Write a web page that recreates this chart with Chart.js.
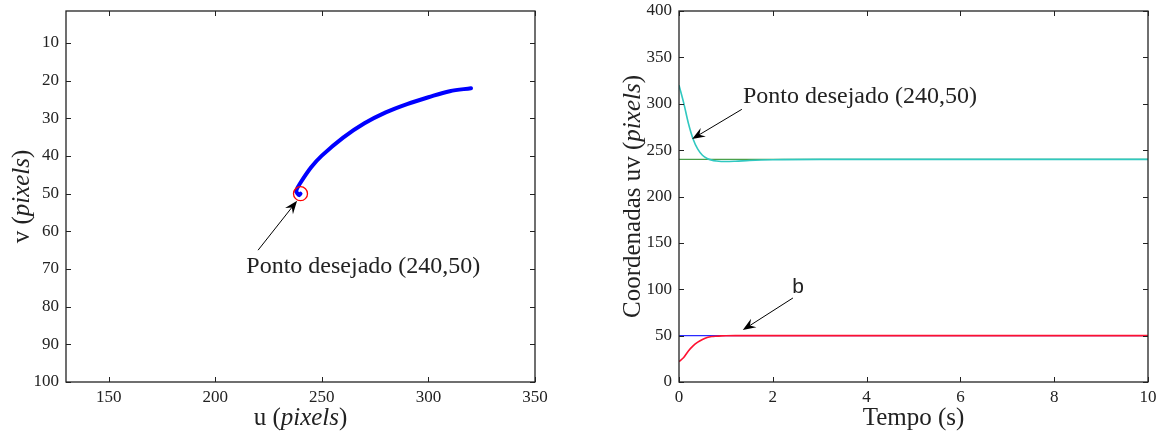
<!DOCTYPE html>
<html>
<head>
<meta charset="utf-8">
<script src="https://cdn.jsdelivr.net/npm/chart.js@4.4.0/dist/chart.umd.min.js"></script>
<style>
html, body { margin: 0; padding: 0; background: #fff; }
#wrap { position: relative; width: 1161px; height: 434px; }
#left { position: absolute; left: 0; top: 0; }
#right { position: absolute; left: 580px; top: 0; }
</style>
</head>
<body>
<div id="wrap">
  <canvas id="left" width="580" height="434"></canvas>
  <canvas id="right" width="581" height="434"></canvas>
</div>
<script>
// ---- dados: trajetoria no plano da imagem ----
var trajU = [320, 310, 300, 290, 280, 270, 260, 250, 245, 240, 238, 238.6, 239.4, 240];
var trajV = [22, 22.8, 24.4, 26.2, 28.4, 31.3, 35.1, 39.9, 43.0, 47.1, 49.2, 50.0, 50.4, 50];
var desiredU = [240];
var desiredV = [50];

// ---- dados: coordenadas uv no tempo ----
var tempo  = [0, 0.1, 0.2, 0.3, 0.4, 0.5, 0.6, 0.7, 0.8, 0.9, 1.0, 1.2, 1.5, 2.0, 3.0, 5.0, 10.0];
var coordU = [320, 301, 279, 262, 251, 244.5, 241, 239.2, 238.3, 237.8, 237.7, 238, 238.8, 239.6, 240, 240, 240];
var coordV = [22, 26.5, 33.5, 39, 43, 45.8, 48, 49, 49.4, 49.7, 49.9, 50, 50, 50, 50, 50, 50];
var refTempo = [0, 10];
var refU = [240, 240];
var refV = [50, 50];

// ---- ticks ----
var leftXTicks  = [150, 200, 250, 300, 350];
var leftYTicks  = [10, 20, 30, 40, 50, 60, 70, 80, 90, 100];
var rightXTicks = [0, 2, 4, 6, 8, 10];
var rightYTicks = [0, 50, 100, 150, 200, 250, 300, 350, 400];

function pts(xs, ys) {
    var out = [];
    for (var i = 0; i < xs.length; i++) out.push({x: xs[i], y: ys[i]});
    return out;
}

var SERIF = '"Liberation Serif", "Times New Roman", serif';
var SANS = '"Liberation Sans", Arial, sans-serif';

// caixa dos eixos no canvas (igual ao original)
var boxTop = 11, boxBottom = 382;

// extras desenhados por cima (em coordenadas de dados)
var extras = {
    left: {
        xTitle: [['u (', false], ['pixels', true], [')', false]],
        yTitle: [['v (', false], ['pixels', true], [')', false]],
        yTitleGap: 45,
        arrows: [[220.1, 65, 238.4, 51.9]],
        texts: [{t: 'Ponto desejado (240,50)', x: 214.6, y: 71.1, font: '24px ' + SERIF, align: 'left', base: 'alphabetic'}]
    },
    right: {
        xTitle: [['Tempo (s)', false]],
        yTitle: [['Coordenadas uv (', false], ['pixels', true], [')', false]],
        yTitleGap: 47,
        arrows: [[1.34, 294, 0.28, 262], [2.43, 90.6, 1.36, 56]],
        texts: [
            {t: 'Ponto desejado (240,50)', x: 1.365, y: 300.8, font: '24px ' + SERIF, align: 'left', base: 'alphabetic'},
            {t: 'b', x: 2.54, y: 102.4, font: '21px ' + SANS, align: 'center', base: 'middle'}
        ]
    }
};

function drawArrow(ctx, x0, y0, x1, y1) {
    var ang = Math.atan2(y1 - y0, x1 - x0);
    var L = 13, W = 5;
    ctx.save();
    ctx.strokeStyle = '#000';
    ctx.fillStyle = '#000';
    ctx.lineWidth = 1;
    ctx.beginPath();
    ctx.moveTo(x0, y0);
    ctx.lineTo(x1 - 8 * Math.cos(ang), y1 - 8 * Math.sin(ang));
    ctx.stroke();
    ctx.translate(x1, y1);
    ctx.rotate(ang);
    ctx.beginPath();
    ctx.moveTo(0, 0);
    ctx.lineTo(-L, -W);
    ctx.lineTo(-L * 0.65, 0);
    ctx.lineTo(-L, W);
    ctx.closePath();
    ctx.fill();
    ctx.restore();
}

function drawMixed(ctx, parts, cx, cy, rotate) {
    ctx.save();
    ctx.translate(cx, cy);
    if (rotate) ctx.rotate(-Math.PI / 2);
    ctx.fillStyle = '#222';
    ctx.textBaseline = 'alphabetic';
    ctx.textAlign = 'left';
    var total = 0, widths = [];
    parts.forEach(function (p) {
        ctx.font = (p[1] ? 'italic ' : '') + '25px ' + SERIF;
        var w = ctx.measureText(p[0]).width;
        widths.push(w);
        total += w;
    });
    var x = -total / 2;
    parts.forEach(function (p, i) {
        ctx.font = (p[1] ? 'italic ' : '') + '25px ' + SERIF;
        ctx.fillText(p[0], x, 8);
        x += widths[i];
    });
    ctx.restore();
}

var matlabAxes = {
    id: 'matlabAxes',
    afterDraw: function (chart) {
        var ctx = chart.ctx;
        var a = chart.chartArea;
        var sx = chart.scales.x, sy = chart.scales.y;
        var ex = extras[chart.canvas.id];
        ctx.save();
        // caixa
        ctx.strokeStyle = '#222';
        ctx.lineWidth = 1.3;
        ctx.strokeRect(a.left, a.top, a.right - a.left, a.bottom - a.top);
        // ticks para dentro, nos quatro lados
        ctx.lineWidth = 1;
        ctx.beginPath();
        sx.ticks.forEach(function (t) {
            var px = Math.round(sx.getPixelForValue(t.value)) + 0.5;
            ctx.moveTo(px, a.bottom); ctx.lineTo(px, a.bottom - 5);
            ctx.moveTo(px, a.top); ctx.lineTo(px, a.top + 5);
        });
        sy.ticks.forEach(function (t) {
            var py = Math.round(sy.getPixelForValue(t.value)) + 0.5;
            ctx.moveTo(a.left, py); ctx.lineTo(a.left + 5, py);
            ctx.moveTo(a.right, py); ctx.lineTo(a.right - 5, py);
        });
        ctx.stroke();
        // setas
        ex.arrows.forEach(function (r) {
            drawArrow(ctx, sx.getPixelForValue(r[0]), sy.getPixelForValue(r[1]),
                      sx.getPixelForValue(r[2]), sy.getPixelForValue(r[3]));
        });
        // textos
        ex.texts.forEach(function (t) {
            ctx.font = t.font;
            ctx.fillStyle = '#222';
            ctx.textAlign = t.align;
            ctx.textBaseline = t.base;
            ctx.fillText(t.t, sx.getPixelForValue(t.x), sy.getPixelForValue(t.y));
        });
        // titulos dos eixos
        drawMixed(ctx, ex.xTitle, (a.left + a.right) / 2, 417, false);
        drawMixed(ctx, ex.yTitle, a.left - ex.yTitleGap, (a.top + a.bottom) / 2, true);
        ctx.restore();
    }
};

function axisOpts(min, max, ticks, reverse, isY, width) {
    return {
        type: 'linear',
        min: min,
        max: max,
        reverse: !!reverse,
        grid: {display: false, drawTicks: false},
        border: {display: false},
        title: {display: false},
        afterBuildTicks: function (scale) {
            scale.ticks = ticks.map(function (v) { return {value: v}; });
        },
        afterFit: function (scale) {
            if (isY) {
                scale.width = width;
                scale.paddingTop = 0;
                scale.paddingBottom = 0;
            } else {
                scale.height = 434 - boxBottom;
                scale.paddingLeft = 0;
                scale.paddingRight = 0;
            }
        },
        ticks: {
            color: '#222',
            font: {family: SERIF, size: 17},
            padding: isY ? 7 : 5,
            maxRotation: 0,
            autoSkip: false
        }
    };
}

var common = {
    responsive: false,
    animation: false,
    plugins: {legend: {display: false}, tooltip: {enabled: false}},
    elements: {point: {radius: 0}}
};

new Chart(document.getElementById('left').getContext('2d'), {
    type: 'scatter',
    data: {
        datasets: [
            {
                data: pts(desiredU, desiredV),
                pointRadius: 7,
                pointStyle: 'circle',
                pointBorderColor: '#ff0000',
                pointBackgroundColor: 'rgba(0,0,0,0)',
                pointBorderWidth: 1.3,
                showLine: false,
                order: 0
            },
            {
                data: pts(trajU, trajV),
                showLine: true,
                borderColor: '#0000ff',
                borderWidth: 4,
                borderCapStyle: 'round',
                borderJoinStyle: 'round',
                tension: 0.35,
                pointRadius: 0,
                order: 1
            }
        ]
    },
    options: Object.assign({}, common, {
        layout: {autoPadding: false, padding: {left: 0, top: boxTop, right: 45, bottom: 0}},
        scales: {
            x: axisOpts(130, 350, leftXTicks, false, false),
            y: axisOpts(1.5, 100, leftYTicks, true, true, 66)
        }
    }),
    plugins: [matlabAxes]
});

new Chart(document.getElementById('right').getContext('2d'), {
    type: 'scatter',
    data: {
        datasets: [
            {data: pts(tempo, coordU), showLine: true, borderColor: '#30c8c0', borderWidth: 1.6, cubicInterpolationMode: 'monotone', pointRadius: 0, order: 0},
            {data: pts(tempo, coordV), showLine: true, borderColor: '#ff1030', borderWidth: 1.6, cubicInterpolationMode: 'monotone', pointRadius: 0, order: 1},
            {data: pts(refTempo, refU), showLine: true, borderColor: '#4aa04a', borderWidth: 1.2, pointRadius: 0, order: 2},
            {data: pts(refTempo, refV), showLine: true, borderColor: '#2a2aff', borderWidth: 1.2, pointRadius: 0, order: 3}
        ]
    },
    options: Object.assign({}, common, {
        layout: {autoPadding: false, padding: {left: 0, top: boxTop, right: 13, bottom: 0}},
        scales: {
            x: axisOpts(0, 10, rightXTicks, false, false),
            y: axisOpts(0, 400, rightYTicks, false, true, 99)
        }
    }),
    plugins: [matlabAxes]
});
</script>
</body>
</html>
